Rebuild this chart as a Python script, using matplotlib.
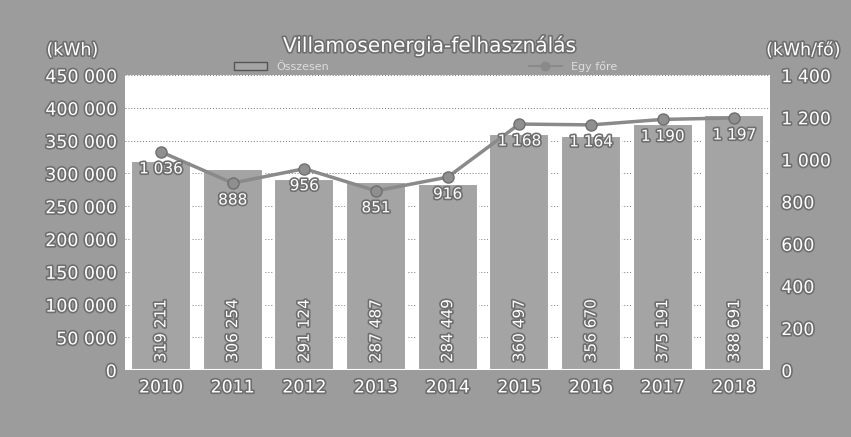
import matplotlib
matplotlib.use("Agg")
import matplotlib.pyplot as plt
import matplotlib.patheffects as pe
from matplotlib.lines import Line2D
from matplotlib.patches import Patch

years = ["2010", "2011", "2012", "2013", "2014", "2015", "2016", "2017", "2018"]
total_kwh = [319211, 306254, 291124, 287487, 284449, 360497, 356670, 375191, 388691]
per_capita = [1036, 888, 956, 851, 916, 1168, 1164, 1190, 1197]
left_ticks = [0, 50000, 100000, 150000, 200000, 250000, 300000, 350000, 400000, 450000]
right_ticks = [0, 200, 400, 600, 800, 1000, 1200, 1400]

def fmt(v):
    return f"{v:,}".replace(",", " ")

bg = "#9c9c9c"
fx = [pe.withStroke(linewidth=2.4, foreground="#6e6e6e")]

fig = plt.figure(figsize=(8.51, 4.37), dpi=100, facecolor=bg)
ax = fig.add_axes([0.147, 0.153, 0.758, 0.675])
ax.set_facecolor("white")
x = list(range(len(years)))
ax.bar(x, total_kwh, width=0.84, color="#a4a4a4", edgecolor="white", linewidth=1.5, zorder=2)
ax.set_ylim(0, 450000)
ax.set_xlim(-0.5, len(years) - 0.5)
ax.set_yticks(left_ticks)
ax.set_yticklabels([fmt(v) for v in left_ticks])
ax.set_xticks(x)
ax.set_xticklabels(years)
ax.yaxis.grid(True, linestyle=(0, (1, 2)), color="#777777", linewidth=0.7, zorder=0)
ax.set_axisbelow(True)
for s in ax.spines.values():
    s.set_visible(False)
ax.tick_params(length=0, labelsize=12.5, labelcolor="white", pad=6)
for t in ax.get_xticklabels() + ax.get_yticklabels():
    t.set_path_effects(fx)

for xi, v in zip(x, total_kwh):
    ax.text(xi, 12000, fmt(v), rotation=90, ha="center", va="bottom",
            color="white", fontsize=11, path_effects=fx, zorder=5)

ax2 = ax.twinx()
ax2.plot(x, per_capita, color="#8a8a8a", linewidth=2.5, marker="o", markersize=8,
         markerfacecolor="#8f8f8f", markeredgecolor="#6f6f6f", zorder=4)
ax2.set_ylim(0, 1400)
ax2.set_yticks(right_ticks)
ax2.set_yticklabels([fmt(v) for v in right_ticks])
for s in ax2.spines.values():
    s.set_visible(False)
ax2.tick_params(length=0, labelsize=12.5, labelcolor="white", pad=8)
for t in ax2.get_yticklabels():
    t.set_path_effects(fx)
for xi, v in zip(x, per_capita):
    ax2.text(xi, v - 45, fmt(v), ha="center", va="top", color="white",
             fontsize=11, path_effects=fx, zorder=5)

fig.text(0.505, 0.895, "Villamosenergia-felhasználás", ha="center", va="center",
         color="white", fontsize=14.5, path_effects=fx)
fig.text(0.085, 0.885, "(kWh)", ha="center", va="center", color="white",
         fontsize=12.5, path_effects=fx)
fig.text(0.944, 0.885, "(kWh/fő)", ha="center", va="center", color="white",
         fontsize=12.5, path_effects=fx)

handles = [Patch(facecolor="#a4a4a4", edgecolor="#555555", label="Összesen"),
           Line2D([], [], color="#8a8a8a", marker="o", markersize=6, label="Egy főre")]
fig.legend(handles=handles, loc="center", bbox_to_anchor=(0.5, 0.848), ncol=2,
           frameon=False, fontsize=8, labelcolor="#dddddd", columnspacing=18,
           handlelength=3)

fig.savefig("out.png", dpi=100, facecolor=bg)
